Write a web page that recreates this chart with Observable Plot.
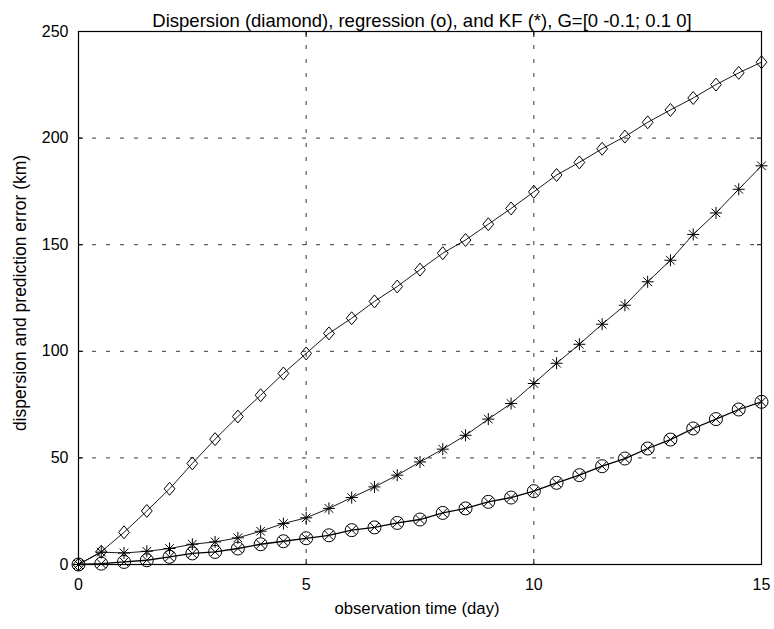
<!DOCTYPE html>
<html>
<head>
<meta charset="utf-8">
<script src="https://cdn.jsdelivr.net/npm/d3@7"></script>
<script src="https://cdn.jsdelivr.net/npm/@observablehq/plot@0.6"></script>
<style>
  html, body { margin: 0; padding: 0; background: #fff; }
  #chart svg { display: block; }
</style>
</head>
<body>
<div id="chart"></div>
<script>
// Observation times (days)
const days = [0, 0.5, 1, 1.5, 2, 2.5, 3, 3.5, 4, 4.5, 5, 5.5, 6, 6.5, 7, 7.5,
  8, 8.5, 9, 9.5, 10, 10.5, 11, 11.5, 12, 12.5, 13, 13.5, 14, 14.5, 15];

// Dispersion (diamond markers), km
const dispersion = [0, 6, 15.1, 25.1, 35.5, 47.4, 58.8, 69.4, 79.4, 89.6, 99.0,
  108.4, 115.5, 123.4, 130.4, 138.3, 146, 152.2, 159.6, 167, 174.8,
  182.7, 188.6, 195, 200.7, 207.4, 213.2, 218.8, 225.1, 230.6, 235.6];

// Kalman filter prediction error (asterisk markers), km
const kf = [0, 5.8, 5.4, 6.2, 7.5, 9.5, 10.6, 12.5, 15.6, 19.2, 21.9,
  26.3, 31.4, 36.4, 41.9, 48.1, 54.1, 60.6, 68.2, 75.5, 84.9,
  94.4, 103.3, 112.7, 121.6, 132.6, 142.7, 154.8, 164.9, 176, 187];

// Regression prediction error (circle markers, with x overlay), km
const regression = [0, 0.4, 1.2, 2.0, 3.6, 5.2, 5.9, 7.5, 9.5, 10.9, 12.3,
  13.7, 16.1, 17.4, 19.5, 21.1, 24.2, 26.3, 29.4, 31.4, 34.4,
  38.3, 41.9, 46.1, 49.7, 54.4, 58.6, 63.8, 68.2, 72.7, 76.3];

// Axis ticks
const xTicks = [0, 5, 10, 15];
const yTicks = [0, 50, 100, 150, 200, 250];
const xGrid = [5, 10];
const yGrid = [50, 100, 150, 200];

const titleText = "Dispersion (diamond), regression (o), and KF (*), G=[0 -0.1; 0.1 0]";
const xLabel = "observation time (day)";
const yLabel = "dispersion and prediction error (km)";

const toRows = (ys) => days.map((t, i) => ({t, v: ys[i]}));
const dispRows = toRows(dispersion);
const kfRows = toRows(kf);
const regRows = toRows(regression);

// Marker shapes in the style of classic line-plot markers (unfilled)
const radius = (size) => Math.sqrt(size / Math.PI);
const diamondSym = {
  draw(ctx, size) {
    const r = radius(size), w = r * 0.9, h = r * 1.08;
    ctx.moveTo(0, -h); ctx.lineTo(w, 0); ctx.lineTo(0, h); ctx.lineTo(-w, 0); ctx.closePath();
  }
};
const asteriskSym = {
  draw(ctx, size) {
    const r = radius(size), d = r * 0.72;
    ctx.moveTo(0, -r); ctx.lineTo(0, r);
    ctx.moveTo(-r, 0); ctx.lineTo(r, 0);
    ctx.moveTo(-d, -d); ctx.lineTo(d, d);
    ctx.moveTo(-d, d); ctx.lineTo(d, -d);
  }
};
const crossSym = {
  draw(ctx, size) {
    const r = radius(size), d = r * 0.72;
    ctx.moveTo(-d, -d); ctx.lineTo(d, d);
    ctx.moveTo(-d, d); ctx.lineTo(d, -d);
  }
};

const font = "'Liberation Sans', Arial, Helvetica, sans-serif";
const fs = 16;

const chart = Plot.plot({
  width: 774,
  height: 629,
  marginLeft: 78,
  marginRight: 13,
  marginTop: 31,
  marginBottom: 65,
  style: {fontFamily: font, fontSize: `${fs}px`, color: "#000", background: "#fff"},
  x: {domain: [0, 15], axis: null},
  y: {domain: [0, 250], axis: null},
  marks: [
    // dotted grid
    Plot.gridX(xGrid, {stroke: "#222", strokeOpacity: 0.9, strokeWidth: 1, strokeDasharray: "4,10"}),
    Plot.gridY(yGrid, {stroke: "#222", strokeOpacity: 0.9, strokeWidth: 1, strokeDasharray: "4,10"}),
    // inward ticks on all four sides
    Plot.axisX(xTicks, {anchor: "bottom", tickSize: -5, tickFormat: () => "", label: null}),
    Plot.axisX(xTicks, {anchor: "top", tickSize: -5, tickFormat: () => "", label: null}),
    Plot.axisY(yTicks, {anchor: "left", tickSize: -5, tickFormat: () => "", label: null}),
    Plot.axisY(yTicks, {anchor: "right", tickSize: -5, tickFormat: () => "", label: null}),
    // tick labels
    Plot.axisX(xTicks, {anchor: "bottom", tickSize: 0, tickPadding: 14, fontSize: fs, label: null}),
    Plot.axisY(yTicks, {anchor: "left", tickSize: 0, tickPadding: 10, fontSize: fs, label: null}),
    // series
    Plot.line(dispRows, {x: "t", y: "v", stroke: "#000", strokeWidth: 0.9}),
    Plot.dot(dispRows, {x: "t", y: "v", symbol: diamondSym, r: 6, stroke: "#000", strokeWidth: 1, fill: "none"}),
    Plot.line(kfRows, {x: "t", y: "v", stroke: "#000", strokeWidth: 0.9}),
    Plot.dot(kfRows, {x: "t", y: "v", symbol: asteriskSym, r: 6, stroke: "#000", strokeWidth: 1, fill: "none"}),
    Plot.line(regRows, {x: "t", y: "v", stroke: "#000", strokeWidth: 1.3}),
    Plot.dot(regRows, {x: "t", y: "v", symbol: "circle", r: 6.5, stroke: "#000", strokeWidth: 1, fill: "none"}),
    Plot.dot(regRows, {x: "t", y: "v", symbol: crossSym, r: 6.2, stroke: "#000", strokeWidth: 1, fill: "none"}),
    // box
    Plot.frame({stroke: "#000", strokeWidth: 1.2}),
    // title and axis labels
    Plot.text([titleText], {frameAnchor: "top", dx: 2, dy: -17.5, fontSize: 18.5, fill: "#000"}),
    Plot.text([xLabel], {frameAnchor: "bottom", dx: -3, dy: 49, fontSize: 16.7, fill: "#000"}),
    Plot.text([yLabel], {frameAnchor: "left", textAnchor: "middle", dx: -58, dy: -5, rotate: -90, fontSize: 17.5, fill: "#000"})
  ]
});

document.getElementById("chart").append(chart);
</script>
</body>
</html>
